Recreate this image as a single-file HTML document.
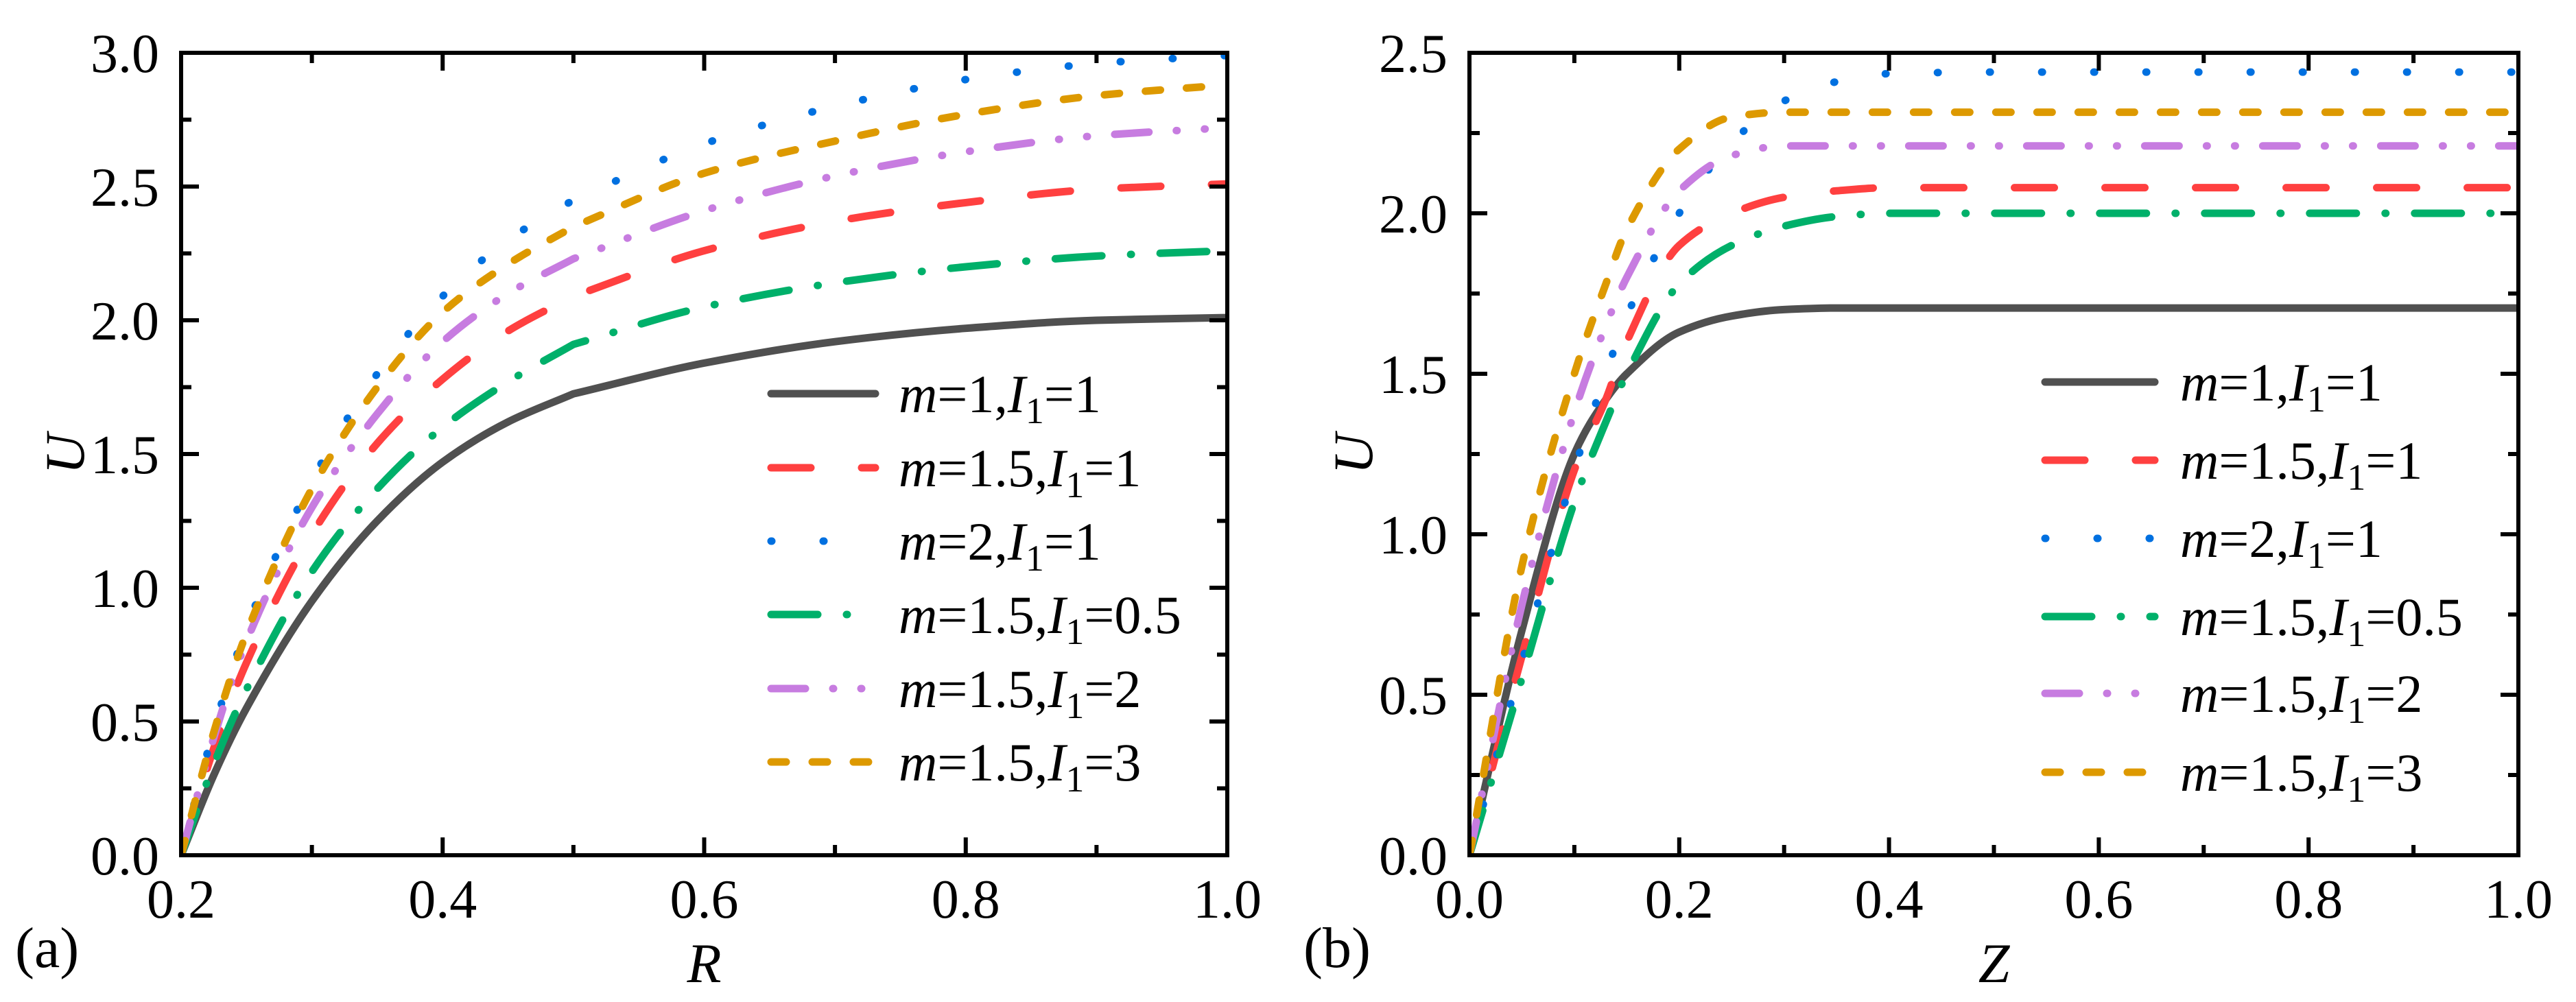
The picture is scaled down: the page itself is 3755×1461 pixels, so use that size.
<!DOCTYPE html>
<html><head><meta charset="utf-8">
<style>
html,body{margin:0;padding:0;background:#fff;}
svg{display:block;}
text{font-family:"Liberation Serif","Times New Roman",Times,"Nimbus Roman","Tinos",serif;}
</style></head>
<body>
<svg id="chart" width="3755" height="1461" viewBox="0 0 3755 1461" xmlns="http://www.w3.org/2000/svg">
<rect width="3755" height="1461" fill="#fff"/>
<g id="pa"></g>
<g id="pb"></g>
</svg>
<script>
// ---- Panel (a) data ----
const aX = [0.2,0.225,0.25,0.3,0.35,0.4,0.45,0.5,0.6,0.7,0.8,0.9,1.0];
const aBlack  = [0,0.3,0.55,0.95,1.25,1.47,1.62,1.725,1.84,1.92,1.97,2.0,2.01];
const aRed    = [0,0.4,0.72,1.2,1.54,1.78,1.96,2.09,2.26,2.37,2.44,2.49,2.51];
const aBlue   = [0,0.47,0.85,1.4,1.8,2.09,2.3,2.45,2.66,2.8,2.9,2.96,2.99];
const aGreen  = [0,0.34,0.62,1.06,1.37,1.6,1.77,1.91,2.05,2.14,2.2,2.24,2.26];
const aPurple = [0,0.44,0.8,1.3,1.65,1.92,2.1,2.23,2.41,2.54,2.63,2.69,2.72];
const aOrange = [0,0.46,0.83,1.37,1.75,2.03,2.21,2.35,2.55,2.67,2.77,2.84,2.88];
const aXTicks = ["0.2","0.4","0.6","0.8","1.0"];
const aYTicks = ["0.0","0.5","1.0","1.5","2.0","2.5","3.0"];
// ---- Panel (b) data ----
const bX = [0,0.05,0.1,0.13,0.15,0.2,0.25,0.3,0.35,0.4,0.5,1.0];
const bBlack  = [0,0.7,1.25,1.42,1.5,1.63,1.68,1.7,1.705,1.705,1.705,1.705];
const bRed    = [0,0.62,1.2,1.42,1.6,1.9,2.0,2.05,2.07,2.08,2.08,2.08];
const bBlue   = [0,0.6,1.2,1.5,1.68,2.0,2.22,2.35,2.41,2.435,2.44,2.44];
const bGreen  = [0,0.55,1.1,1.35,1.5,1.78,1.9,1.96,1.99,2.0,2.0,2.0];
const bPurple = [0,0.78,1.38,1.65,1.8,2.07,2.18,2.21,2.21,2.21,2.21,2.21];
const bOrange = [0,0.9,1.5,1.78,1.95,2.2,2.3,2.315,2.315,2.315,2.315,2.315];
const bXTicks = ["0.0","0.2","0.4","0.6","0.8","1.0"];
const bYTicks = ["0.0","0.5","1.0","1.5","2.0","2.5"];

const NS="http://www.w3.org/2000/svg";
function mk(parent,tag,attrs){const e=document.createElementNS(NS,tag);for(const k in attrs)e.setAttribute(k,attrs[k]);parent.appendChild(e);return e;}

const styles=[
 {c:"#505050",d:null,n:"m1-i1"},
 {c:"#ff4040",d:"58 74",n:"m15-i1"},
 {c:"#0070e0",d:"1 75",n:"m2-i1"},
 {c:"#00b06a",d:"68 42 1 42",n:"m15-i05"},
 {c:"#c77ce0",d:"50 40 1 40 1 40",n:"m15-i2"},
 {c:"#dd9900",d:"22 38",n:"m15-i3"}
];
const legLabels=[["1","1"],["1.5","1"],["2","1"],["1.5","0.5"],["1.5","2"],["1.5","3"]];

function monoPath(P,kink){
 const segs=[];
 if(kink!=null){segs.push(P.slice(0,kink+1));segs.push(P.slice(kink));}else segs.push(P);
 let d="M"+P[0][0].toFixed(1)+","+P[0][1].toFixed(1);
 segs.forEach(S=>{
  const n=S.length;const m=[];const dl=[];
  for(let i=0;i<n-1;i++)dl.push((S[i+1][1]-S[i][1])/(S[i+1][0]-S[i][0]));
  for(let i=0;i<n;i++){
   if(i===0)m.push(dl[0]);else if(i===n-1)m.push(dl[n-2]);
   else m.push(dl[i-1]*dl[i]<=0?0:2/(1/dl[i-1]+1/dl[i]));
  }
  for(let i=0;i<n-1;i++){
   const h=S[i+1][0]-S[i][0];
   d+=`C${(S[i][0]+h/3).toFixed(1)},${(S[i][1]+m[i]*h/3).toFixed(1)} ${(S[i+1][0]-h/3).toFixed(1)},${(S[i+1][1]-m[i+1]*h/3).toFixed(1)} ${S[i+1][0].toFixed(1)},${S[i+1][1].toFixed(1)}`;
  }
 });
 return d;
}

function panel(g,cfg){
 const {L,R,T,B,x0,x1,y0,y1,xs,series,xTicks,yTicks,xMinor,yMinor,xTitle,tag,tagX,legX1,legX2,legTx,legRows,kink}=cfg;
 const sx=v=>L+(v-x0)/(x1-x0)*(R-L);
 const sy=v=>B-(v-y0)/(y1-y0)*(B-T);
 const clip=mk(g,"clipPath",{id:"clip"+tag});
 mk(clip,"rect",{x:L,y:T-10,width:R-L,height:B-T+10});
 series.forEach((s,i)=>{
  const pts=xs.map((x,j)=>[sx(x),sy(s[j])]);
  const p=mk(g,"path",{d:monoPath(pts,kink),fill:"none",stroke:styles[i].c,"stroke-width":11,"stroke-linecap":"round","stroke-linejoin":"round","clip-path":"url(#clip"+tag+")"});
  if(styles[i].d)p.setAttribute("stroke-dasharray",styles[i].d);
  
  
 });
 const fr=mk(g,"rect",{x:L,y:T,width:R-L,height:B-T,fill:"none",stroke:"#000","stroke-width":6});
 
 
 const nx=Math.round((x1-x0)/xMinor);
 for(let i=0;i<=nx;i++){
  const v=x0+i*xMinor, X=sx(v), major=(i%2===0), len=major?26:15;
  mk(g,"line",{x1:X,y1:B,x2:X,y2:B-len,stroke:"#000","stroke-width":6});
  mk(g,"line",{x1:X,y1:T,x2:X,y2:T+len,stroke:"#000","stroke-width":6});
 }
 xTicks.forEach((t,i)=>{
  const v=x0+i*2*xMinor;
  const e=mk(g,"text",{x:sx(v),y:1338,"font-size":80,"text-anchor":"middle"});e.textContent=t;
  
  
 });
 const ny=Math.round((y1-y0)/yMinor);
 for(let i=0;i<=ny;i++){
  const v=y0+i*yMinor, Y=sy(v), major=(i%2===0), len=major?26:15;
  mk(g,"line",{x1:L,y1:Y,x2:L+len,y2:Y,stroke:"#000","stroke-width":6});
  mk(g,"line",{x1:R,y1:Y,x2:R-len,y2:Y,stroke:"#000","stroke-width":6});
 }
 yTicks.forEach((t,i)=>{
  const v=y0+i*2*yMinor;
  const e=mk(g,"text",{x:L-32,y:sy(v)+28,"font-size":80,"text-anchor":"end"});e.textContent=t;
  
  
 });
 const yt=mk(g,"text",{x:0,y:0,"font-size":82,"font-style":"italic","text-anchor":"middle",transform:`translate(${L-142},${(T+B)/2}) rotate(-90)`});
 yt.textContent="U";
 
 
 const xt=mk(g,"text",{x:(L+R)/2,y:1432,"font-size":82,"font-style":"italic","text-anchor":"middle"});
 xt.textContent=xTitle;
 
 
 const tg=mk(g,"text",{x:tagX,y:1410,"font-size":84});
 tg.textContent="("+tag+")";
 
 
 const lg=mk(g,"g",{});
 
 
 legRows.forEach((ry,i)=>{
  const ln=mk(lg,"line",{x1:legX1,y1:ry,x2:legX2,y2:ry,stroke:styles[i].c,"stroke-width":11,"stroke-linecap":"round"});
  if(styles[i].d)ln.setAttribute("stroke-dasharray",styles[i].d);
  
  
  const t=mk(lg,"text",{x:legTx,y:ry+27,"font-size":78});
  t.innerHTML=`<tspan font-style="italic">m</tspan>=${legLabels[i][0]},<tspan font-style="italic">I</tspan><tspan font-size="54" dy="16">1</tspan><tspan dy="-16">=${legLabels[i][1]}</tspan>`;
  
  
 });
}

panel(document.getElementById("pa"),{L:264,R:1789,T:77,B:1247,x0:0.2,x1:1.0,y0:0,y1:3.0,xs:aX,
 series:[aBlack,aRed,aBlue,aGreen,aPurple,aOrange],xTicks:aXTicks,yTicks:aYTicks,xMinor:0.1,yMinor:0.25,
 xTitle:"R",tag:"a",tagX:22,legX1:1124,legX2:1276,legTx:1310,legRows:[574,682,789,896,1004,1111],kink:7});
panel(document.getElementById("pb"),{L:2142,R:3671,T:77,B:1247,x0:0,x1:1.0,y0:0,y1:2.5,xs:bX,
 series:[bBlack,bRed,bBlue,bGreen,bPurple,bOrange],xTicks:bXTicks,yTicks:bYTicks,xMinor:0.1,yMinor:0.25,
 xTitle:"Z",tag:"b",tagX:1900,legX1:2981,legX2:3141,legTx:3178,legRows:[557,671,785,899,1011,1126],kink:null});
</script>
</body></html>
